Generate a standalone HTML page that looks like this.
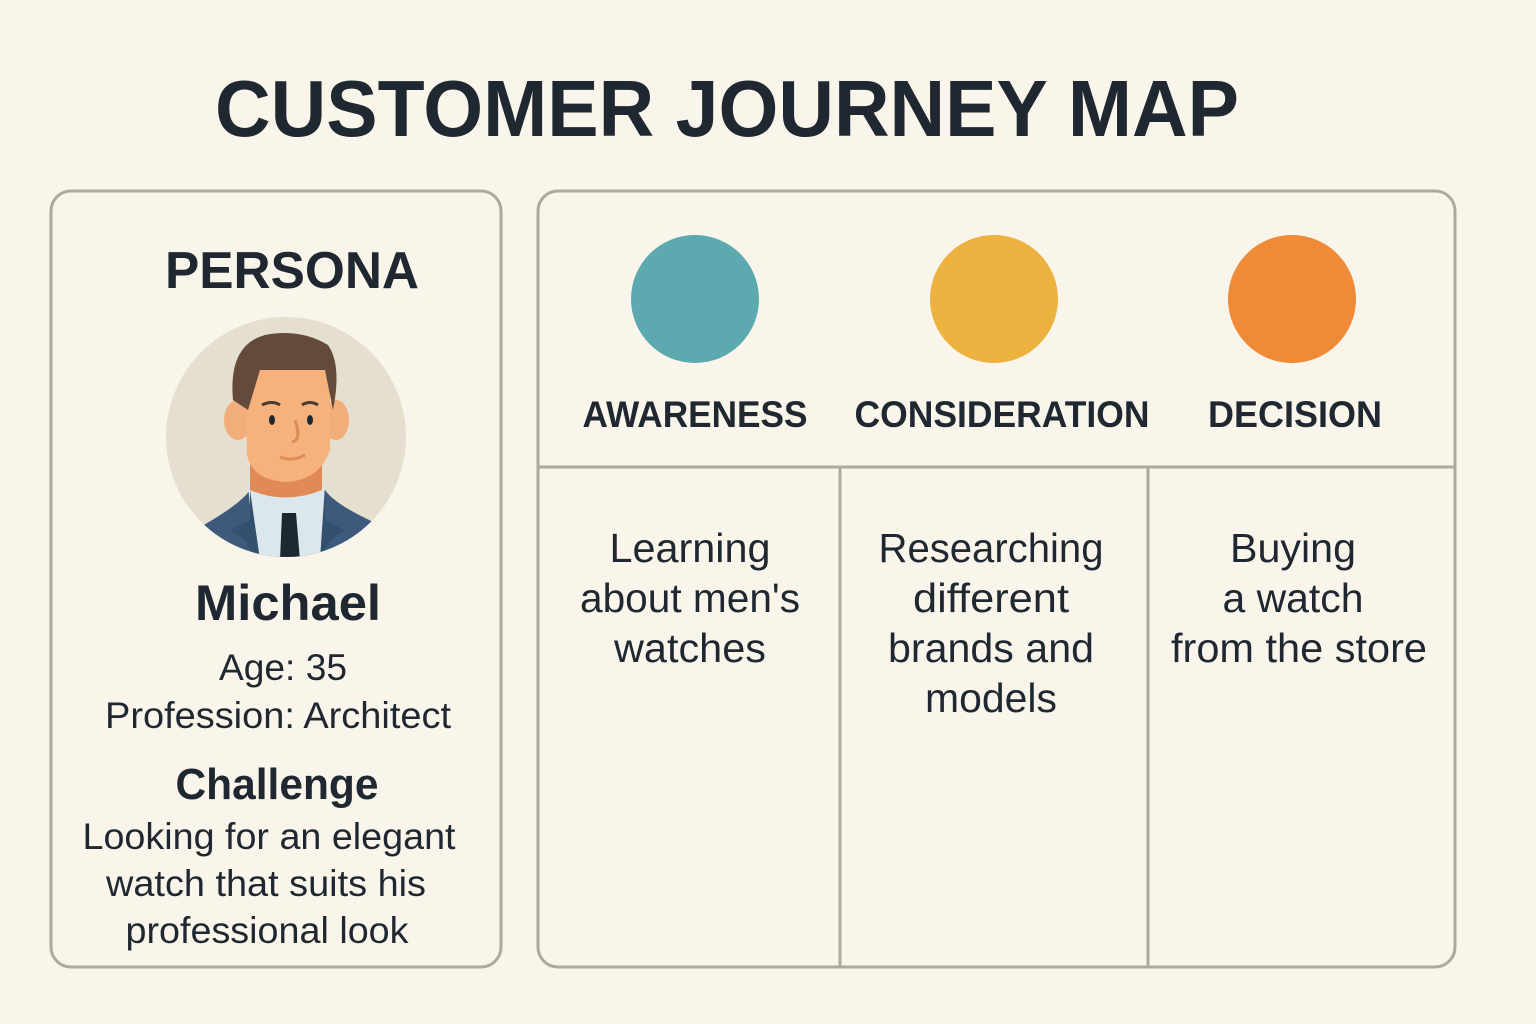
<!DOCTYPE html>
<html><head><meta charset="utf-8"><style>
html,body{margin:0;padding:0;background:#faf5eb;}
svg{display:block;}
text{font-family:"Liberation Sans",sans-serif;fill:#1f2730;}
.b{font-weight:bold;}
</style></head><body>
<svg width="1536" height="1024" viewBox="0 0 1536 1024" xmlns="http://www.w3.org/2000/svg">
<rect width="1536" height="1024" fill="#faf5eb"/>
<text x="727" y="136" class="b" font-size="80" text-anchor="middle" textLength="1024" lengthAdjust="spacingAndGlyphs">CUSTOMER JOURNEY MAP</text>

<rect x="51" y="191" width="450" height="776" rx="20" fill="none" stroke="#aca99d" stroke-width="3"/>
<rect x="538" y="191" width="917" height="776" rx="20" fill="none" stroke="#aca99d" stroke-width="3"/>
<line x1="538" y1="467" x2="1455" y2="467" stroke="#aca99d" stroke-width="3"/>
<line x1="840" y1="467" x2="840" y2="967" stroke="#aca99d" stroke-width="3"/>
<line x1="1148" y1="467" x2="1148" y2="967" stroke="#aca99d" stroke-width="3"/>

<text x="292" y="288" class="b" font-size="52" text-anchor="middle" textLength="254" lengthAdjust="spacingAndGlyphs">PERSONA</text>

<defs><clipPath id="c"><circle cx="286" cy="437" r="120"/></clipPath></defs>
<circle cx="286" cy="437" r="120" fill="#e4dfcf"/>
<g clip-path="url(#c)">
  <path d="M195 530 Q240 505 250 490 L325 490 Q335 505 380 525 L400 600 L180 600 Z" fill="#3d5a7c"/>
  <path d="M248 485 L325 485 L320 560 L255 560 Z" fill="#dbe7ec"/>
  <path d="M282 513 L296 513 L300 560 L280 560 Z" fill="#1e2830"/>
  <path d="M250 490 L250 520 L230 530 L245 540 L255 560 L260 560 Z" fill="#34506f"/>
  <path d="M325 490 L325 520 L345 530 L330 540 L320 560 Z" fill="#34506f"/>
</g>
<path d="M250 455 L250 490 Q285 505 322 490 L322 455 Z" fill="#e08b55"/>
<ellipse cx="238" cy="420" rx="14" ry="20" fill="#f2ad7a"/>
<ellipse cx="336" cy="420" rx="13" ry="20" fill="#f2ad7a"/>
<path d="M245 360 L330 360 L330 450 Q320 480 286 482 Q252 480 247 455 Z" fill="#f5b27c"/>
<path d="M233 400 Q228 345 265 335 Q300 328 328 345 Q342 365 333 410 L325 370 Q300 370 260 370 L248 410 Z" fill="#644a3a"/>
<ellipse cx="272" cy="420" rx="3" ry="5" fill="#1e2830"/>
<ellipse cx="310" cy="420" rx="3" ry="5" fill="#1e2830"/>
<path d="M262 405 Q272 400 280 405 M302 405 Q310 400 318 405" stroke="#4a3a30" stroke-width="3" fill="none"/>
<path d="M295 420 Q302 440 292 442" stroke="#e08b55" stroke-width="3" fill="none"/>
<path d="M280 457 Q292 462 305 455" stroke="#e08b55" stroke-width="3" fill="none"/>

<text x="288" y="620" class="b" font-size="50" text-anchor="middle" textLength="186" lengthAdjust="spacingAndGlyphs">Michael</text>
<text x="283" y="680" font-size="37" text-anchor="middle" textLength="128" lengthAdjust="spacingAndGlyphs">Age: 35</text>
<text x="278" y="728" font-size="37" text-anchor="middle" textLength="346" lengthAdjust="spacingAndGlyphs">Profession: Architect</text>
<text x="277" y="799" class="b" font-size="44" text-anchor="middle" textLength="203" lengthAdjust="spacingAndGlyphs">Challenge</text>
<text x="269" y="849" font-size="37" text-anchor="middle" textLength="373" lengthAdjust="spacingAndGlyphs">Looking for an elegant</text>
<text x="266" y="896" font-size="37" text-anchor="middle" textLength="320" lengthAdjust="spacingAndGlyphs">watch that suits his</text>
<text x="267" y="943" font-size="37" text-anchor="middle" textLength="283" lengthAdjust="spacingAndGlyphs">professional look</text>

<circle cx="695" cy="299" r="64" fill="#5ca9b0"/>
<circle cx="994" cy="299" r="64" fill="#ecb13f"/>
<circle cx="1292" cy="299" r="64" fill="#ef8a37"/>
<text x="695" y="427" class="b" font-size="37" text-anchor="middle" textLength="225" lengthAdjust="spacingAndGlyphs">AWARENESS</text>
<text x="1002" y="427" class="b" font-size="37" text-anchor="middle" textLength="295" lengthAdjust="spacingAndGlyphs">CONSIDERATION</text>
<text x="1295" y="427" class="b" font-size="37" text-anchor="middle" textLength="174" lengthAdjust="spacingAndGlyphs">DECISION</text>

<g font-size="41" text-anchor="middle">
<text x="690" y="562" textLength="161" lengthAdjust="spacingAndGlyphs">Learning</text>
<text x="690" y="612" textLength="220" lengthAdjust="spacingAndGlyphs">about men's</text>
<text x="690" y="662" textLength="152" lengthAdjust="spacingAndGlyphs">watches</text>
<text x="991" y="562" textLength="225" lengthAdjust="spacingAndGlyphs">Researching</text>
<text x="991" y="612" textLength="156" lengthAdjust="spacingAndGlyphs">different</text>
<text x="991" y="662" textLength="206" lengthAdjust="spacingAndGlyphs">brands and</text>
<text x="991" y="712" textLength="132" lengthAdjust="spacingAndGlyphs">models</text>
<text x="1293" y="562" textLength="126" lengthAdjust="spacingAndGlyphs">Buying</text>
<text x="1293" y="612" textLength="141" lengthAdjust="spacingAndGlyphs">a watch</text>
<text x="1299" y="662" textLength="256" lengthAdjust="spacingAndGlyphs">from the store</text>
</g>
</svg>
</body></html>
